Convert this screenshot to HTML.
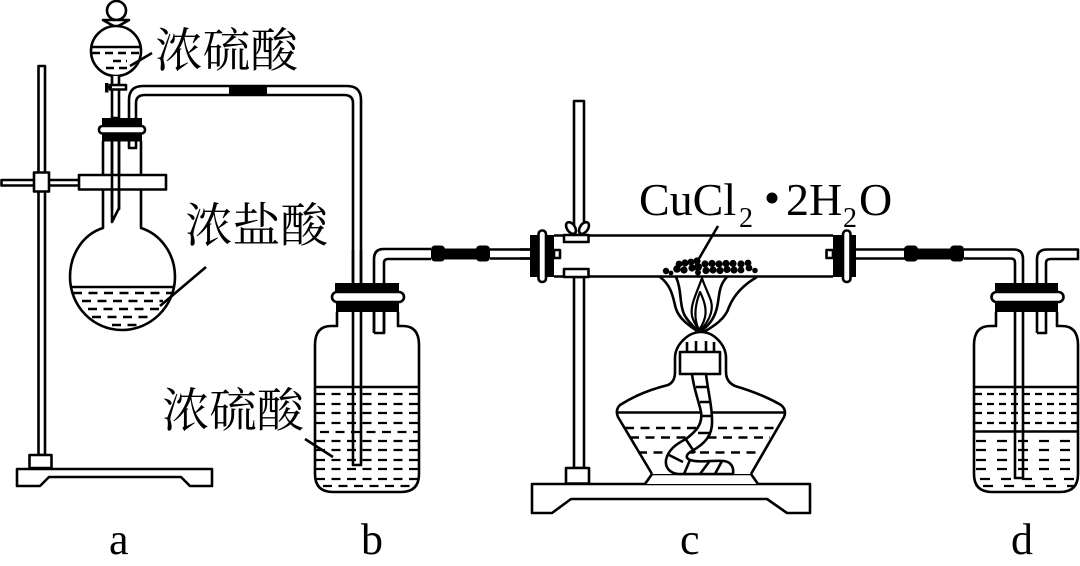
<!DOCTYPE html>
<html><head><meta charset="utf-8"><style>
html,body{margin:0;padding:0;background:#fff;width:1080px;height:566px;overflow:hidden}
svg{display:block}
.l{fill:none;stroke:#000;stroke-width:2.6;stroke-linejoin:round}
.w{fill:#fff;stroke:#000;stroke-width:2.6;stroke-linejoin:round}
.d{fill:none;stroke:#000;stroke-width:2.6;stroke-dasharray:9 6.5}
.cj{font-family:"Liberation Serif","Noto Serif CJK SC",serif;font-size:47px;fill:#000}
.en{font-family:"Liberation Serif",serif;fill:#000}
</style></head><body>
<svg width="1080" height="566" viewBox="0 0 1080 566" xmlns="http://www.w3.org/2000/svg">
<rect width="1080" height="566" fill="#fff"/>

<!-- stand a -->
<rect class="w" x="38.5" y="66" width="6.5" height="389"/>
<rect class="w" x="29.5" y="455" width="22" height="13"/>
<path class="w" d="M17 469H212V486H190L181 477H49L40 486H17Z"/>
<rect class="w" x="1.5" y="180" width="78" height="5.5"/>
<rect class="w" x="34" y="172.5" width="15" height="19"/>

<!-- flask a -->
<path class="w" d="M103 141V228C84 234 70 253 70 277C70 306 93 330 122 330C151 330 175 306 175 277C175 253 160 234 141 228V141"/>
<path class="l" d="M71 287H174"/>
<path class="d" d="M73 293H172M82 301H163M88 309H160M92 317H150M112 325H140"/>
<path class="l" d="M206 267L160 306"/>
<path class="l" d="M112 118V210M119 118V210"/>
<path class="l" d="M112 190V222L119 208V190"/>
<rect class="w" x="79" y="175" width="87" height="14.5"/>

<!-- funnel a -->
<circle class="w" cx="116.500" cy="10.500" r="9.500"/>
<path class="w" d="M103 20H129L122 24L116 27L110 24Z"/>
<circle class="w" cx="116" cy="51" r="25"/>
<path class="l" d="M91 47H141"/>
<path class="d" d="M92 53H141M113 61H127M106 68H130" style="stroke-dasharray:8 5"/>
<path class="l" d="M152 53L130 66"/>
<path class="w" d="M112 76V118H119V76"/>
<rect class="w" x="110" y="85" width="16" height="4.500"/>
<rect x="105" y="83" width="3.500" height="9.500" fill="#000"/>
<path class="l" d="M106 87H112"/>

<!-- connection tube a-b -->
<path class="l" d="M129 118V100Q129 86 143 86H347Q361 86 361 100V283"/>
<path class="l" d="M136 118V103Q136 95 145 95H344Q353 95 353 103V283"/>
<rect x="229" y="85.500" width="38" height="10" fill="#000"/>
<rect class="w" x="129" y="140" width="7" height="8"/>

<!-- stopper a -->
<rect x="102" y="118" width="40" height="8" fill="#000"/>
<rect x="102" y="133" width="40" height="8.500" fill="#000"/>
<rect class="w" x="99" y="126" width="46" height="7.500" rx="3.500"/>
<path class="l" d="M112 141V190M119 141V190"/>

<!-- bottle b -->
<path class="w" d="M337 312V326H331Q315 326 315 345V474Q315 492 333 492H401Q419 492 419 474V345Q419 326 403 326H398V312"/>
<path class="l" d="M316 387H418"/>
<path class="d" d="M316 394H418M316 404H418M316 413H418M316 423H418M320 432H418M316 441H418M316 450H418M316 460H418M316 469H418M316 479H418M323 486H412" style="stroke-width:2.2"/>
<path class="l" d="M305 439L333 457"/>
<path class="l" d="M353 312V465H361V312"/>
<path class="l" d="M374 333H384V263Q384 259 388 259H431M374 333V259Q374 249 384 249H431"/>
<path class="l" d="M353 250V283M361 250V283"/>
<rect x="335" y="283" width="64" height="9" fill="#000"/>
<rect x="336" y="302" width="63" height="10" fill="#000"/>
<rect class="w" x="332" y="292" width="72" height="10" rx="5"/>
<path class="l" d="M374 312V333M384 312V333"/>

<!-- sleeve b-c -->
<rect x="431" y="245.500" width="14" height="16" rx="4" fill="#000"/>
<rect x="476" y="245.500" width="14" height="16" rx="4" fill="#000"/>
<rect x="444" y="248.500" width="33" height="11" fill="#000"/>
<path class="l" d="M490 249.500H531M490 258.500H531"/>

<!-- stand c -->
<path class="w" d="M574 101H584V235H574Z"/>
<path class="w" d="M574 277H584V468H574Z"/>
<rect class="w" x="566" y="468" width="23" height="15.500"/>
<path class="w" d="M532 484H810V513H787L767 499H571L552 513H532Z"/>
<ellipse class="w" cx="571" cy="228" rx="4" ry="6.500" transform="rotate(-35 571 228)"/>
<ellipse class="w" cx="584" cy="228" rx="4" ry="6.500" transform="rotate(35 584 228)"/>

<!-- flame -->
<path class="l" d="M660 277C672 286 673 298 676 309C680 320 690 326 697 331"/>
<path class="l" d="M676 277C682 290 679 305 685 316C690 324 695 328 698 331"/>
<path class="l" d="M757 277C743 285 734 295 729 307C725 320 712 327 704 332"/>
<path class="l" d="M727 277C717 287 720 300 716 311C713 321 707 326 702 331"/>
<path class="l" d="M702 278C696 295 690 305 692 316C694 324 698 328 700 331C708 322 714 312 711 301C708 292 704 285 702 278Z" style="stroke-width:2.2"/>
<path class="l" d="M700 292C695 305 693 318 699 330C706 320 709 310 700 292Z" style="stroke-width:2.2"/>

<!-- tube c -->
<path class="l" d="M554 235.500H833M554 276.500H833"/>
<rect class="w" x="564" y="235" width="24.500" height="7"/>
<rect class="w" x="564" y="269" width="24.500" height="8"/>
<rect x="530" y="235" width="24" height="42" fill="#000"/>
<rect class="w" x="538.500" y="230.500" width="7.500" height="51.500" rx="3.500"/>
<rect class="w" x="554" y="250" width="6" height="8"/>
<rect x="833" y="235" width="23" height="42" fill="#000"/>
<rect class="w" x="843" y="230.500" width="7.500" height="51.500" rx="3.500"/>
<rect class="w" x="826.500" y="250" width="6.500" height="8"/>

<!-- particles -->
<g fill="#000">
<circle cx="666" cy="271" r="3.200"/><circle cx="671" cy="273" r="2.400"/>
<circle cx="677" cy="269" r="3.800"/><circle cx="679" cy="264" r="3.400"/><circle cx="685" cy="263" r="3.600"/>
<circle cx="684" cy="270" r="3.600"/><circle cx="691" cy="262" r="3.400"/><circle cx="692" cy="268" r="3.600"/>
<circle cx="697" cy="261" r="3.600"/><circle cx="698" cy="267" r="4"/><circle cx="698" cy="272.500" r="3"/>
<circle cx="705" cy="264" r="3.600"/><circle cx="706" cy="270.500" r="3.600"/><circle cx="712" cy="263.500" r="3.600"/>
<circle cx="713" cy="270" r="3.600"/><circle cx="719" cy="264" r="3.600"/><circle cx="720" cy="270.500" r="3.600"/>
<circle cx="726" cy="263.500" r="3.600"/><circle cx="727" cy="269.500" r="3.600"/><circle cx="733" cy="263.500" r="3.600"/>
<circle cx="734" cy="270" r="3.600"/><circle cx="741" cy="264" r="3.600"/><circle cx="741" cy="270" r="3.400"/>
<circle cx="748" cy="263" r="3.400"/><circle cx="749" cy="268" r="3.400"/><circle cx="755" cy="270.500" r="2.800"/>
</g>
<path class="l" d="M718 226L697 262"/>

<!-- burner -->
<path class="w" d="M645 484L652 474H751L758 484"/>
<path class="w" d="M652 474L618 417Q615 410 620 405Q640 392 668 385Q675 382 675 372V358C675 345 688 332 701 332C714 332 726 345 726 358V372Q726 382 735 386Q762 394 781 405Q787 410 784 417L751 474"/>
<path class="l" d="M617 412.500H785"/>
<path class="d" d="M625 428H778M630 437.500H770M638 452.500H762" style="stroke-width:2.400"/>
<rect class="w" x="680" y="352" width="40" height="22"/>
<path class="l" d="M687 342V352M696 341V352M706 341V352M714 342V352"/>
<path class="w" d="M692 374C694 390 699 402 701 412C703 425 695 432 686 439C676 444 668 450 666 460C665 468 670 473 678 474H733C734 467 731 462 724 461C712 460 700 463 690 460C685 458 686 454 692 451C704 444 713 436 712 420C712 405 708 392 706 374Z"/>
<path class="l" d="M696 387H708M700 402H711M702 416H712M698 433H711M685 438L695 453M669 455L683 462M690 460L684 474M709 462L700 474M722 461L715 474"/>

<!-- tube c-d -->
<path class="l" d="M856 249.500H905M856 258.500H905"/>
<path class="l" d="M520 249.500H531M520 258.500H531"/>
<rect x="904" y="245.500" width="14" height="16" rx="4" fill="#000"/>
<rect x="950" y="245.500" width="14" height="16" rx="4" fill="#000"/>
<rect x="917" y="248.500" width="34" height="11" fill="#000"/>

<!-- bottle d -->
<path class="w" d="M996 312V326H990Q974 326 974 345V474Q974 492 992 492H1060Q1078 492 1078 474V345Q1078 326 1062 326H1057V312"/>
<path class="l" d="M975 387H1077M975 431.500H1077"/>
<path class="d" d="M975 394H1077M975 404H1077M975 413H1077M975 423H1077" style="stroke-width:2.200;stroke-dasharray:7 5"/>
<path class="d" d="M976 441H1077M976 450H1077M976 460H1077M976 469H1077M980 479H1077M983 486H1075" style="stroke-width:2.200;stroke-dasharray:10 11"/>
<path class="l" d="M964 249.500H1014Q1023 249.500 1023 259V478M964 258.500H1011Q1015 258.500 1015 263V478H1023"/>
<path class="l" d="M1037 333H1046V263Q1046 259 1051 259H1078V249.500H1047Q1037 249.500 1037 259V333"/>
<rect x="995" y="283" width="63" height="9" fill="#000"/>
<rect x="995" y="302" width="63" height="10" fill="#000"/>
<rect class="w" x="991.500" y="292" width="72" height="10" rx="5"/>

<!-- text -->
<text class="cj" x="155" y="67" textLength="143" lengthAdjust="spacingAndGlyphs">浓硫酸</text>
<text class="cj" x="185" y="242" textLength="143" lengthAdjust="spacingAndGlyphs">浓盐酸</text>
<text class="cj" x="162" y="427" textLength="142" lengthAdjust="spacingAndGlyphs">浓硫酸</text>
<text class="en" x="639" y="215" font-size="46">CuCl</text>
<text class="en" x="739" y="227" font-size="28">2</text>
<circle cx="772" cy="198" r="5.500" fill="#000"/>
<text class="en" x="786" y="215" font-size="46">2H</text>
<text class="en" x="843" y="227" font-size="28">2</text>
<text class="en" x="859" y="215" font-size="46">O</text>
<text class="en" x="109" y="554" font-size="44">a</text>
<text class="en" x="361" y="554" font-size="44">b</text>
<text class="en" x="680" y="554" font-size="44">c</text>
<text class="en" x="1011" y="554" font-size="44">d</text>
</svg>
</body></html>
